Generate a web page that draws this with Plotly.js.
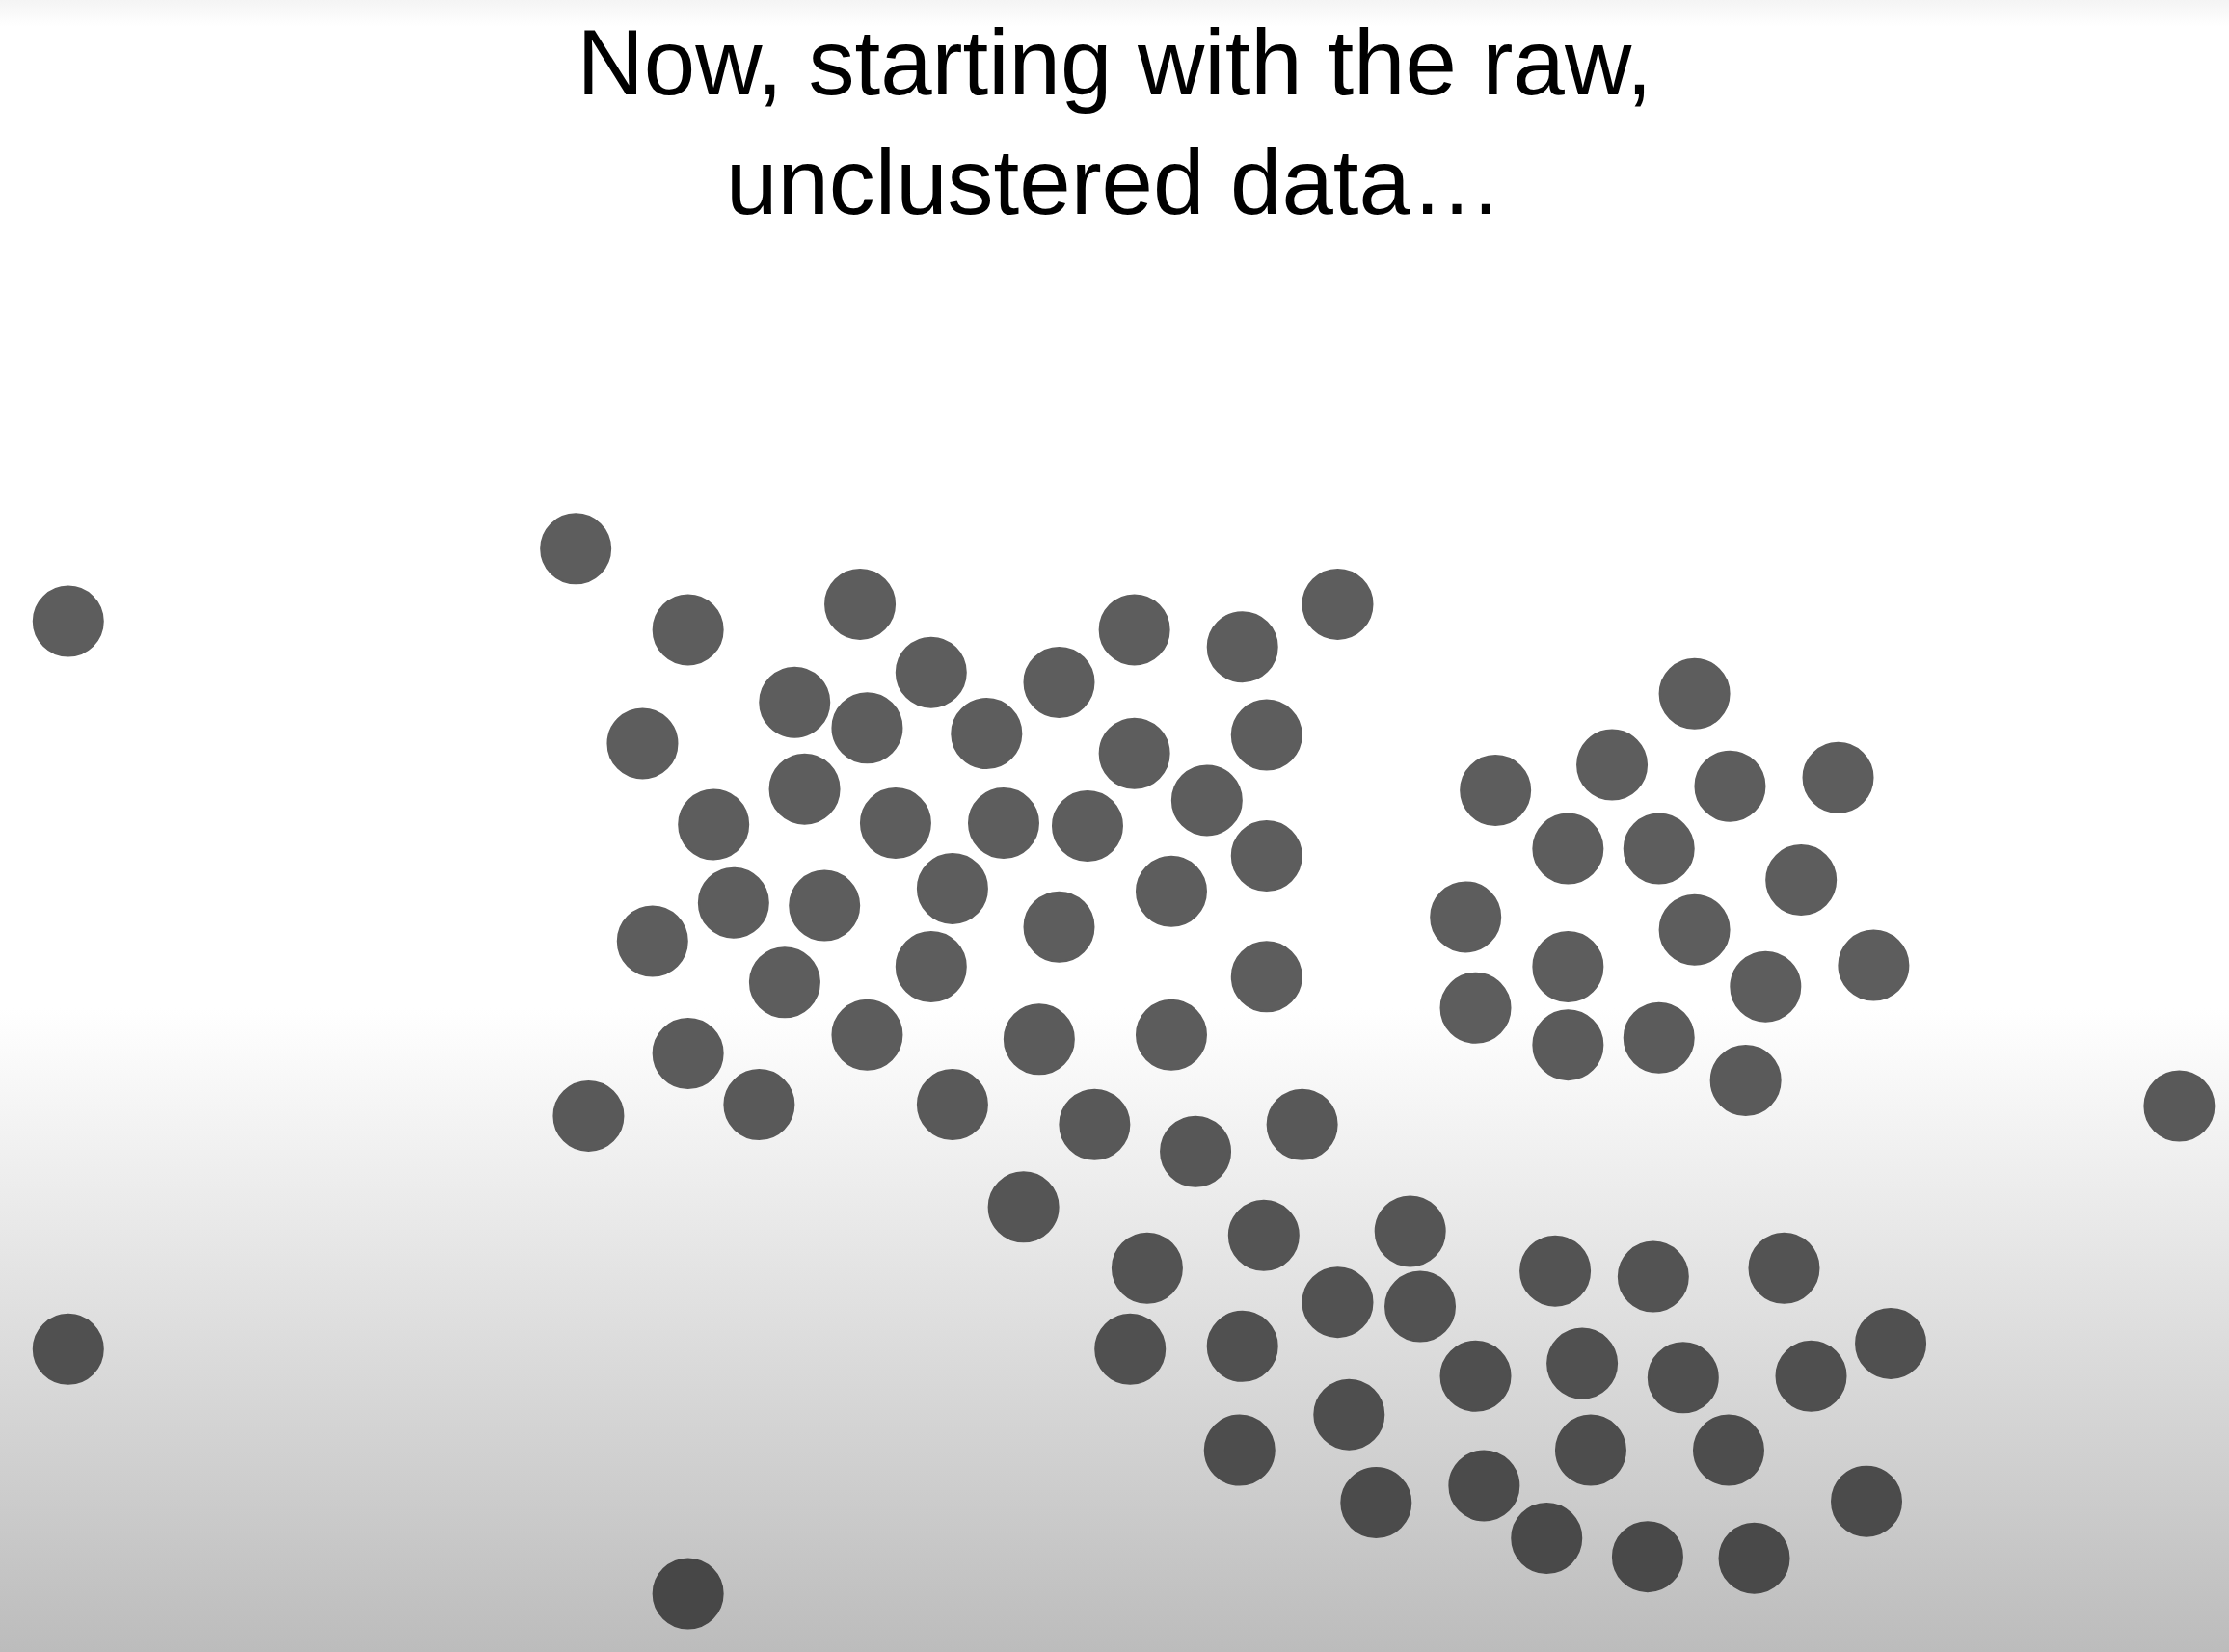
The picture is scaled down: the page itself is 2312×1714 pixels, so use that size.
<!DOCTYPE html>
<html>
<head>
<meta charset="utf-8">
<script src="https://cdn.plot.ly/plotly-3.0.1.min.js"></script>
<style>
  html, body { margin: 0; padding: 0; }
  body {
    width: 2312px; height: 1714px; overflow: hidden;
    background: linear-gradient(to bottom, #f4f4f4 0%, #ffffff 1.6%, #ffffff 61%, #bcbcbc 100%);
  }
  #chart { width: 2312px; height: 1714px; }
</style>
</head>
<body>
<div id="chart"></div>
<script>
// Point positions (horizontal position, vertical position measured from top)
const outlierX = [48, 405, 48, 484, 1533, 414];
const outlierY = [437, 386, 949, 1121, 778, 785];

const clusterAX = [484, 605, 798, 874, 941, 655, 745, 559, 610, 694, 452, 798, 891, 566, 502, 630, 706, 765, 849, 891, 516, 580, 670, 824, 745, 459, 552, 655, 891, 484, 610, 731, 824, 534, 670, 770, 841, 916, 720];
const clusterAY = [443, 425, 443, 455, 425, 473, 480, 494, 512, 516, 523, 530, 517, 555, 580, 579, 579, 581, 563, 602, 635, 637, 625, 627, 652, 662, 691, 680, 687, 741, 728, 731, 728, 777, 777, 791, 810, 791, 849];

const clusterBX = [1192, 1052, 1134, 1217, 1293, 1103, 1167, 1267, 1031, 1192, 1103, 1242, 1318, 1038, 1103, 1167, 1228];
const clusterBY = [488, 556, 538, 553, 547, 597, 597, 619, 645, 654, 680, 694, 679, 709, 735, 730, 760];

const clusterCX = [889, 992, 807, 1094, 1163, 1255, 941, 999, 795, 874, 1330, 1038, 1113, 1184, 1274, 949, 872, 1119, 1216, 968, 1044, 1313, 1088, 1159, 1234];
const clusterCY = [869, 866, 892, 894, 898, 892, 916, 919, 949, 947, 945, 968, 959, 969, 968, 995, 1020, 1020, 1020, 1057, 1045, 1056, 1082, 1095, 1096];

const titleText = "Now, starting with the raw,<br>unclustered data…";

const xs = [].concat(outlierX, clusterAX, clusterBX, clusterCX);
const ys = [].concat(outlierY, clusterAY, clusterBY, clusterCY);

const dotScale = [[0, '#5d5d5d'], [1, '#474747']];

const trace = {
  type: 'scatter',
  mode: 'markers',
  x: xs,
  y: ys,
  hoverinfo: 'skip',
  marker: {
    size: 72,
    opacity: 1,
    color: ys,
    cmin: 700,
    cmax: 1130,
    colorscale: dotScale,
    showscale: false,
    line: { width: 2, color: ys, cmin: 700, cmax: 1130, colorscale: dotScale }
  }
};

const layout = {
  width: 2312,
  height: 1714,
  margin: { l: 0, r: 0, t: 0, b: 0 },
  paper_bgcolor: 'rgba(0,0,0,0)',
  plot_bgcolor: 'rgba(0,0,0,0)',
  showlegend: false,
  title: {
    text: titleText,
    x: 0.5,
    xanchor: 'center',
    y: 0.943,
    yanchor: 'top',
    font: { family: 'Liberation Sans, Arial, sans-serif', size: 96, color: '#000000' }
  },
  xaxis: { range: [0, 1568], visible: false, fixedrange: true },
  yaxis: { range: [1162, 0], visible: false, fixedrange: true }
};

Plotly.newPlot('chart', [trace], layout, { displayModeBar: false, staticPlot: true });
</script>
</body>
</html>
